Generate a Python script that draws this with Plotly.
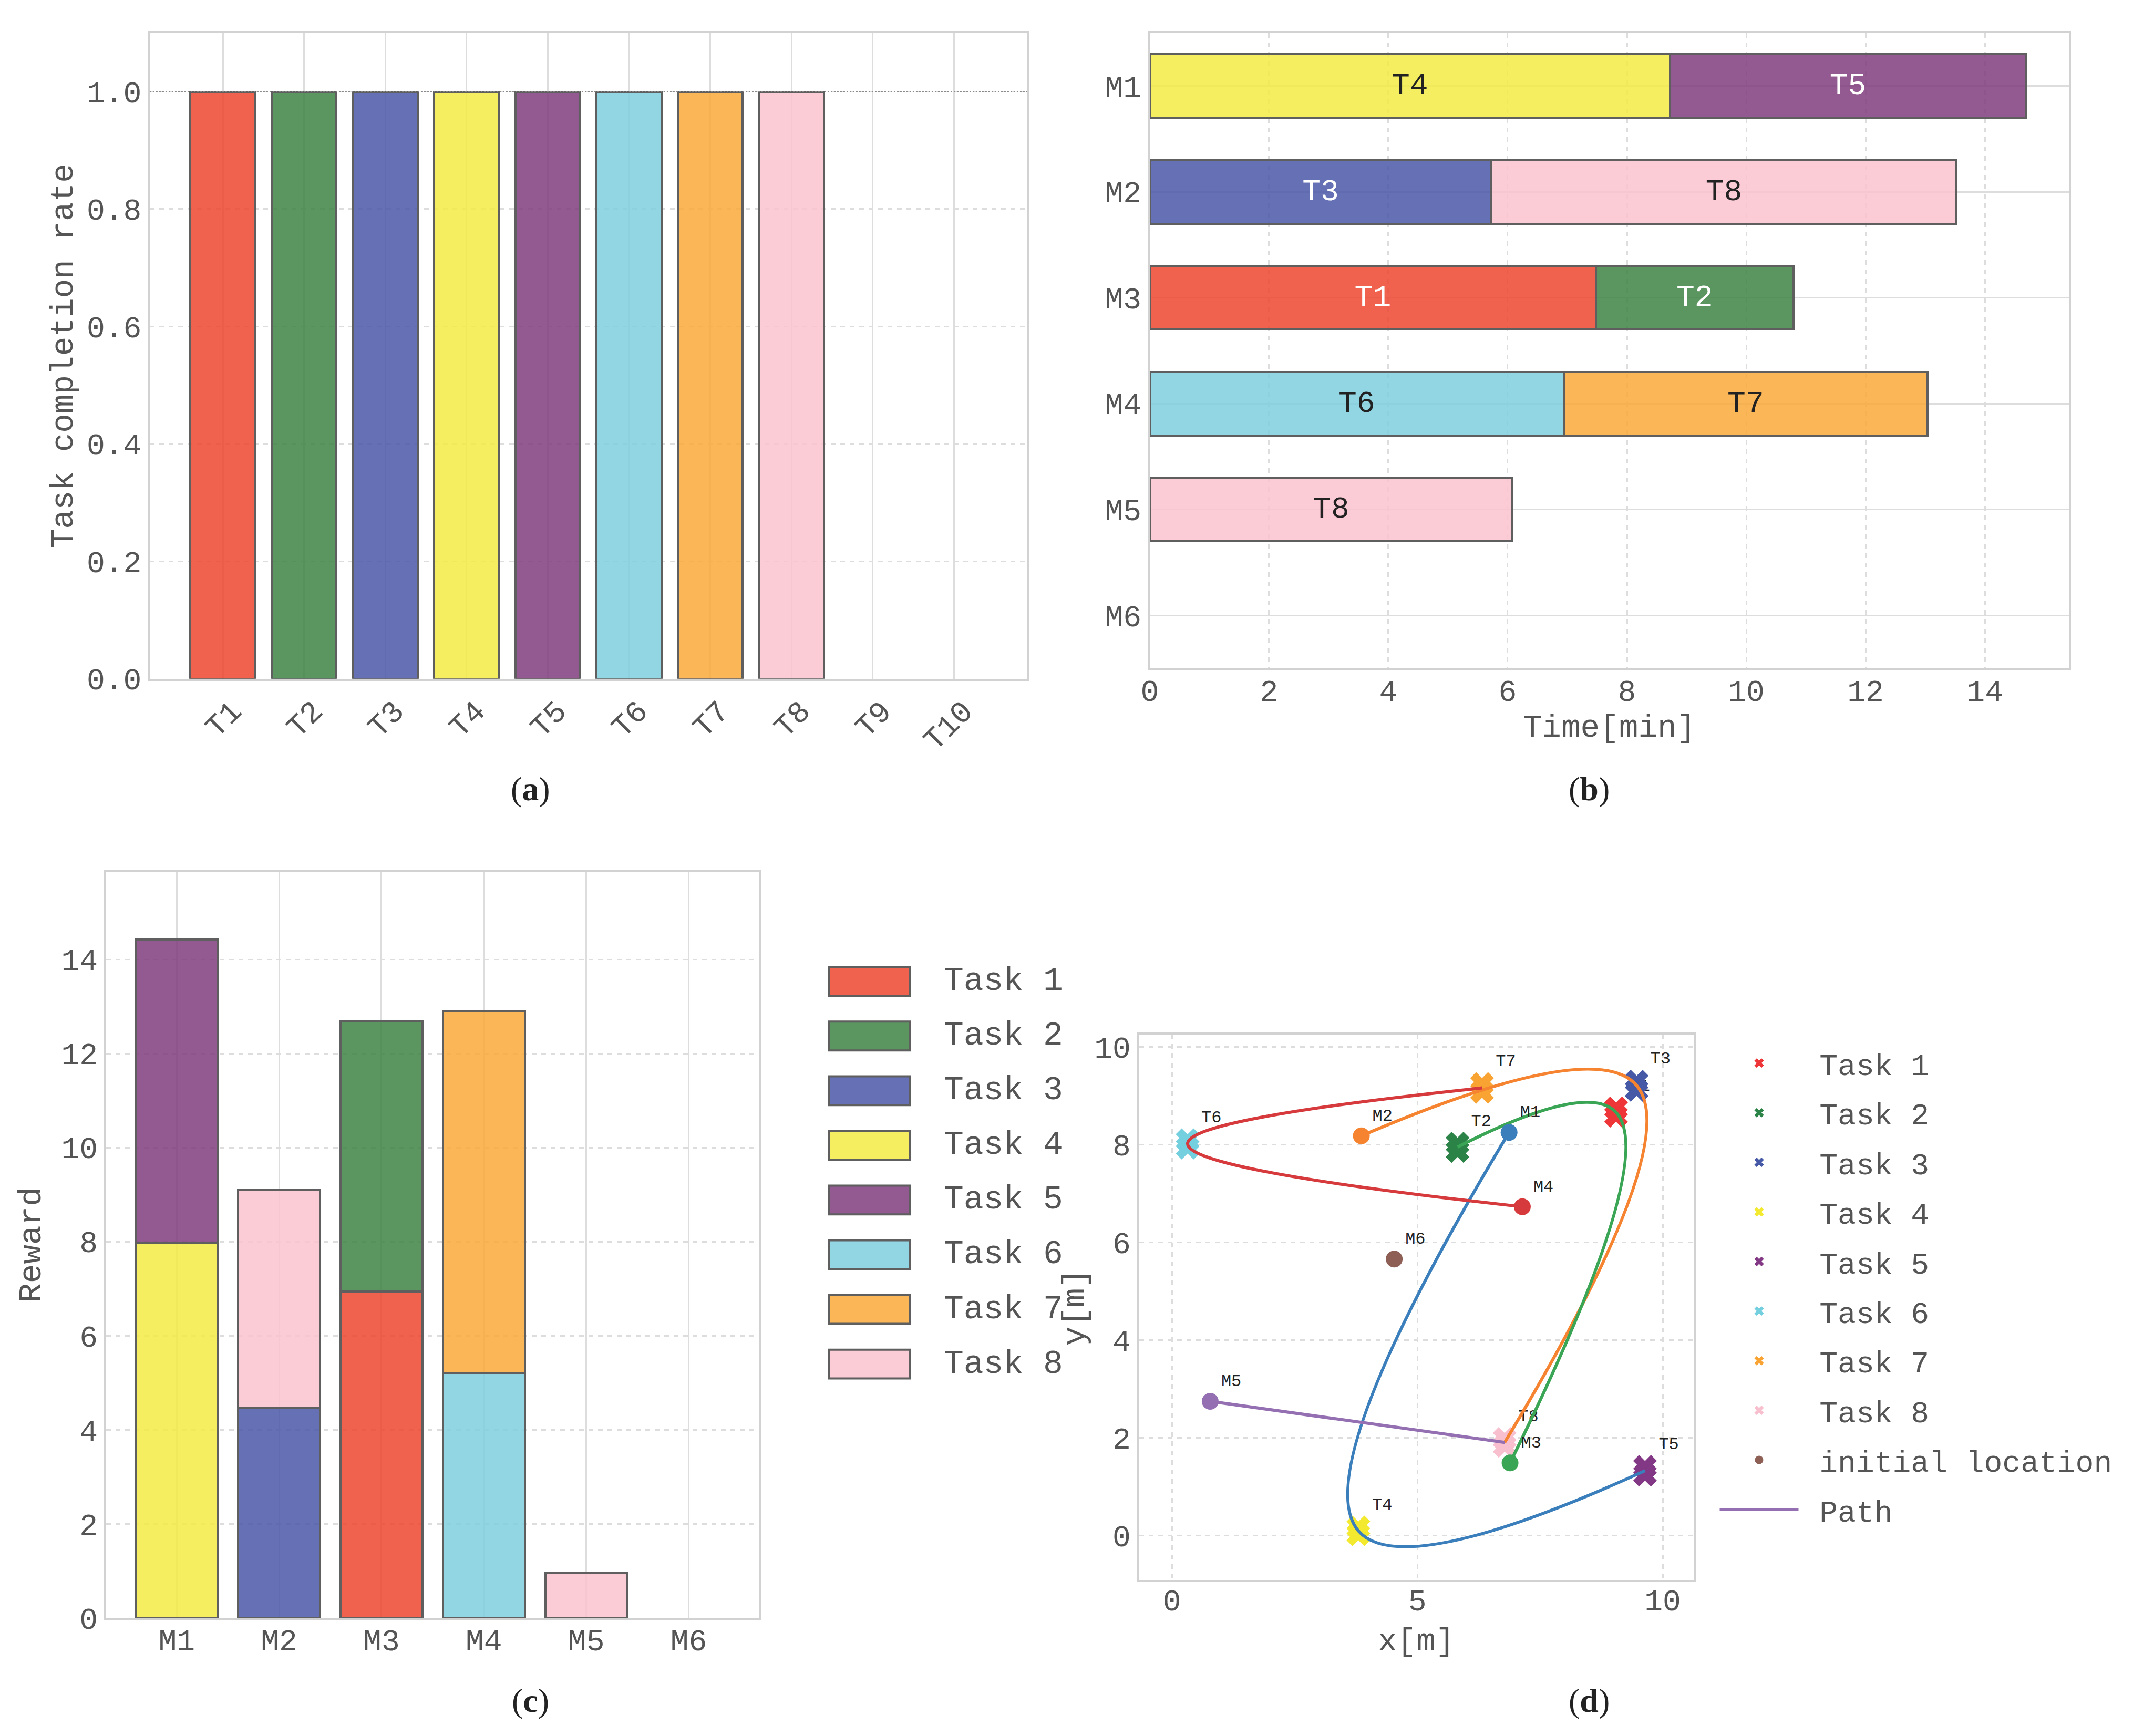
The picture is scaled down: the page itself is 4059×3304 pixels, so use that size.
import plotly.graph_objects as go

# ---------------- data ----------------
task_names = ["T1", "T2", "T3", "T4", "T5", "T6", "T7", "T8", "T9", "T10"]
completion_rate = [1.0, 1.0, 1.0, 1.0, 1.0, 1.0, 1.0, 1.0, 0.0, 0.0]
target_rate = 1.0

machines = ["M1", "M2", "M3", "M4", "M5", "M6"]
first_task = ["T4", "T3", "T1", "T6", "T8", None]
first_duration = [8.72, 5.73, 7.48, 6.94, 6.08, None]
second_task = ["T5", "T8", "T2", "T7", None, None]
second_duration = [5.97, 7.79, 3.31, 6.10, None, None]

reward_first = [7.98, 4.46, 6.94, 5.21, 0.95, None]
reward_second = [6.44, 4.65, 5.75, 7.68, None, None]

legend_tasks = ["Task 1", "Task 2", "Task 3", "Task 4", "Task 5", "Task 6", "Task 7", "Task 8"]

task_x = [9.05, 5.82, 9.47, 3.80, 9.64, 0.32, 6.32, 6.78]
task_y = [8.66, 7.95, 9.21, 0.10, 1.33, 8.02, 9.16, 1.91]
task_y_upper = [8.74, 8.02, 9.29, 0.17, 1.41, 8.09, 9.24, 1.98]
task_y_lower = [8.59, 7.87, 9.12, 0.03, 1.25, 7.94, 9.08, 1.84]

machine_x = [6.87, 3.86, 6.89, 7.14, 0.78, 4.53]
machine_y = [8.25, 8.18, 1.49, 6.73, 2.75, 5.66]

# ---------------- styles ----------------
FONT = "Liberation Mono"
FS = 58
TXT = "#555555"
bar_fill = {
    "T1": "rgba(237,71,46,0.85)", "T2": "rgba(62,130,68,0.85)",
    "T3": "rgba(74,88,167,0.85)", "T4": "rgba(242,235,68,0.85)",
    "T5": "rgba(127,61,124,0.85)", "T6": "rgba(127,206,222,0.85)",
    "T7": "rgba(250,170,57,0.85)", "T8": "rgba(250,194,207,0.85)",
    "T9": "rgba(200,200,200,0.85)", "T10": "rgba(200,200,200,0.85)",
}
bar_text_color = {"T1": "white", "T2": "white", "T3": "white", "T5": "white",
                  "T4": "#222222", "T6": "#222222", "T7": "#222222", "T8": "#222222"}
marker_colors = ["#ee3538", "#2b8348", "#4659a6", "#f3ea30",
                 "#823884", "#74cfdf", "#f9a332", "#f8c0ce"]
machine_colors = ["#3a7ebb", "#f5832f", "#3aa655", "#d73a3c", "#9470b3", "#8d5f55"]
EDGE = "#5f5f5f"
NB = "\u00a0"

# page body has an 8px margin: shift paper positions to compensate
DX, DY = -8 / 4059, 8 / 3304


def dx(a, b):
    return [a + DX, b + DX]


def dy(a, b):
    return [a + DY, b + DY]


fig = go.Figure()

# ---------------- (a) completion rate ----------------
fig.add_trace(go.Bar(
    x=task_names, y=completion_rate, width=0.8,
    marker=dict(color=[bar_fill[t] for t in task_names],
                line=dict(color=[EDGE if v > 0 else "rgba(0,0,0,0)" for v in completion_rate], width=4)),
    xaxis="x", yaxis="y", showlegend=False))

# ---------------- (b) gantt ----------------
for tasks, durs in ((first_task, first_duration), (second_task, second_duration)):
    fig.add_trace(go.Bar(
        y=machines, x=durs, orientation="h", width=0.6,
        marker=dict(color=[bar_fill[t] if t else "rgba(0,0,0,0)" for t in tasks],
                    line=dict(color=EDGE, width=4)),
        text=[t if t else "" for t in tasks], textposition="inside",
        insidetextanchor="middle", textangle=0,
        textfont=dict(family=FONT, size=FS, color=[bar_text_color.get(t, "#222") if t else "#222" for t in tasks]),
        xaxis="x2", yaxis="y2", showlegend=False))

# ---------------- (c) reward stacked ----------------
for k in range(8):
    tname = "T%d" % (k + 1)
    vals = []
    for i in range(len(machines)):
        if first_task[i] == tname:
            vals.append(reward_first[i])
        elif second_task[i] == tname:
            vals.append(reward_second[i])
        else:
            vals.append(None)
    fig.add_trace(go.Bar(
        x=machines, y=vals, width=0.8, name=legend_tasks[k],
        marker=dict(color=bar_fill[tname], line=dict(color=EDGE, width=4)),
        xaxis="x3", yaxis="y3", showlegend=False))

# ---------------- (d) paths ----------------
for k in range(8):
    fig.add_trace(go.Scatter(
        x=[task_x[k], task_x[k]], y=[task_y_upper[k], task_y_lower[k]],
        mode="markers+text", name=NB + legend_tasks[k],
        marker=dict(symbol="x", size=40, color=marker_colors[k], line=dict(width=0)),
        text=["T%d" % (k + 1), ""], textposition="top right",
        textfont=dict(family=FONT, size=32, color="#222222"),
        xaxis="x4", yaxis="y4", legend="legend2", legendgroup="d%d" % k, legendrank=k + 1))

idx = {("T%d" % (k + 1)): k for k in range(8)}
for i, m in enumerate(machines):
    px = [machine_x[i]]
    py = [machine_y[i]]
    for t in (first_task[i], second_task[i]):
        if t:
            px.append(task_x[idx[t]])
            py.append(task_y[idx[t]])
    if len(px) > 1:
        fig.add_trace(go.Scatter(
            x=px, y=py, mode="lines", name=NB + "Path",
            line=dict(color=machine_colors[i], width=6, shape="spline", smoothing=1.3),
            xaxis="x4", yaxis="y4", legend="legend2", legendgroup="path",
            legendrank=10, showlegend=(m == "M5")))

for i, m in enumerate(machines):
    fig.add_trace(go.Scatter(
        x=[machine_x[i]], y=[machine_y[i]], mode="markers+text",
        name=NB + "initial location", text=[m], textposition="top right",
        textfont=dict(family=FONT, size=32, color="#222222"),
        marker=dict(size=32, color=machine_colors[i]),
        xaxis="x4", yaxis="y4", legend="legend2", legendgroup="init",
        legendrank=9, showlegend=(m == "M6")))

# ---------------- layout ----------------
def ax(**kw):
    base = dict(showline=True, linecolor="#d2d2d2", linewidth=4, mirror=True,
                ticks="", zeroline=False, gridcolor="#dddddd", gridwidth=3,
                automargin=False,
                tickfont=dict(family=FONT, size=FS, color=TXT),
                title_font=dict(family=FONT, size=61, color=TXT))
    base.update(kw)
    return base

# manual legend for panel (c): swatches + labels
leg_top, leg_step, sw_h = 0.4347 + DY, 0.03149, 0.0083
shapes = [dict(type="line", xref="x domain", x0=0, x1=1, yref="y",
               y0=target_rate, y1=target_rate,
               line=dict(color="#888888", width=3, dash="dot"))]
annotations = []
for k in range(8):
    cy = leg_top - k * leg_step
    shapes.append(dict(type="rect", xref="paper", yref="paper",
                       x0=0.3886 + DX, x1=0.4265 + DX, y0=cy - sw_h, y1=cy + sw_h,
                       fillcolor=bar_fill["T%d" % (k + 1)],
                       line=dict(color=EDGE, width=4)))
    annotations.append(dict(text=legend_tasks[k], x=0.442 + DX, y=cy, xref="paper", yref="paper",
                            xanchor="left", yanchor="middle", showarrow=False,
                            font=dict(family=FONT, size=63, color=TXT)))

captions = [("a", 0.2487, 0.5455), ("b", 0.745, 0.5455),
            ("c", 0.2487, 0.0204), ("d", 0.745, 0.0204)]
for letter, cx, cy in captions:
    annotations.append(dict(text="(<b>%s</b>)" % letter, x=cx + DX, y=cy + DY,
                            xref="paper", yref="paper", xanchor="center", yanchor="middle",
                            showarrow=False, font=dict(family="Liberation Serif", size=64, color="#222222")))

fig.update_layout(
    width=4059, height=3304, margin=dict(l=0, r=0, t=0, b=0, autoexpand=False),
    paper_bgcolor="white", plot_bgcolor="white", barmode="stack",
    font=dict(family=FONT, size=FS, color=TXT),
    xaxis=ax(domain=dx(0.0702, 0.4815), anchor="y", type="category",
             categoryorder="array", categoryarray=task_names,
             range=[-0.9, 9.9], tickangle=-45, ticklabelshift=18),
    yaxis=ax(domain=dy(0.609, 0.981), anchor="x", range=[0, 1.1], dtick=0.2,
             tick0=0, tickformat=".1f", griddash="dash",
             title=dict(text="Task completion rate", standoff=8)),
    xaxis2=ax(domain=dx(0.539, 0.970), anchor="y2", range=[0, 15.41], dtick=2,
              griddash="dash", ticklabelstandoff=-12,
              title=dict(text="Time[min]", standoff=5)),
    yaxis2=ax(domain=dy(0.615, 0.981), anchor="x2", type="category",
              categoryorder="array", categoryarray=machines, range=[5.5, -0.5]),
    xaxis3=ax(domain=dx(0.0497, 0.356), anchor="y3", type="category",
              categoryorder="array", categoryarray=machines, range=[-0.69, 5.69],
              ticklabelstandoff=-12),
    yaxis3=ax(domain=dy(0.068, 0.498), anchor="x3", range=[0, 15.87], dtick=2,
              griddash="dash", title=dict(text="Reward", standoff=20)),
    xaxis4=ax(domain=dx(0.534, 0.794), anchor="y4", range=[-0.67, 10.63], dtick=5,
              griddash="dash", ticklabelstandoff=-15,
              title=dict(text="x[m]", standoff=18)),
    yaxis4=ax(domain=dy(0.090, 0.404), anchor="x4", range=[-0.90, 10.25], dtick=2,
              griddash="dash", title=dict(text="y[m]", standoff=0)),
    legend2=dict(x=0.805 + DX, y=0.401 + DY, xanchor="left", yanchor="top",
                 traceorder="grouped", tracegroupgap=16, itemwidth=150,
                 font=dict(family=FONT, size=FS, color=TXT), bgcolor="rgba(0,0,0,0)"),
    shapes=shapes, annotations=annotations,
)

fig.write_html("out.html")
